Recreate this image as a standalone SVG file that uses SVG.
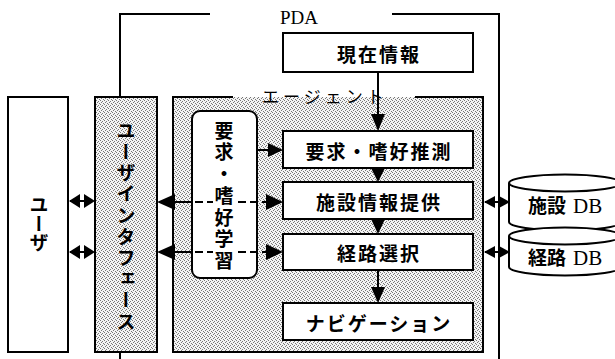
<svg xmlns="http://www.w3.org/2000/svg" width="615" height="359" viewBox="0 0 615 359">
  <style>
    .box { fill: #fff; stroke: #000; stroke-width: 2; }
    .shade { fill: url(#stipple); }
    .frame { fill: none; stroke: #000; stroke-width: 2; }
    .lbl { font-family: "Noto Sans CJK JP", "Noto Sans", sans-serif; font-weight: 700; font-size: 19px; fill: #000; }
    .vert { writing-mode: vertical-rl; }
    .latin { font-family: "Liberation Serif", "Noto Sans CJK JP", serif; font-size: 21px; }
    .line { stroke: #000; stroke-width: 2; fill: none; }
    .dash { stroke: #000; stroke-width: 2; fill: none; stroke-dasharray: 8 4; }
    .head { fill: #000; stroke: none; }
  </style>
  <defs>
    <pattern id="stipple" width="4" height="4" patternUnits="userSpaceOnUse">
      <rect width="4" height="4" fill="#f4f4f4"/>
      <rect x="0" y="0" width="1" height="1" fill="#777"/>
      <rect x="2" y="1" width="1" height="1" fill="#777"/>
      <rect x="1" y="2" width="1" height="1" fill="#777"/>
      <rect x="3" y="3" width="1" height="1" fill="#777"/>
    </pattern>
  </defs>

  <!-- PDA enclosure -->
  <g id="pda">
    <path class="frame" d="M120,359 V14 H210"/>
    <path class="frame" d="M392,14 H499 V359"/>
    <text x="280" y="24" font-family="Liberation Serif, serif" font-size="19">PDA</text>
  </g>

  <!-- user -->
  <g id="user">
    <rect class="box" x="8" y="97" width="60" height="255"/>
    <text class="lbl vert" x="39" y="224" text-anchor="middle" font-size="20">ユーザ</text>
  </g>

  <!-- user interface -->
  <g id="ui">
    <rect class="shade" x="95" y="97" width="62" height="255"/>
    <rect x="95" y="97" width="62" height="255" fill="none" stroke="#000" stroke-width="2"/>
    <text class="lbl vert" x="126" y="227" text-anchor="middle" letter-spacing="2.2">ユーザインタフェース</text>
  </g>

  <!-- agent -->
  <g id="agent">
    <rect class="shade" x="173" y="97" width="310" height="255"/>
    <path class="frame" d="M233,97 H173 V352 H483 V97 H415"/>
    <text x="262" y="103" font-family="Noto Sans CJK JP, sans-serif" font-weight="400" font-size="17" letter-spacing="4">エージェント</text>
  </g>

  <!-- current information -->
  <g id="current">
    <rect class="box" x="283" y="33" width="190" height="39"/>
    <text class="lbl" x="379" y="53" text-anchor="middle" dominant-baseline="central" letter-spacing="2">現在情報</text>
  </g>

  <!-- learning -->
  <g id="learning">
    <rect class="box" x="192" y="111" width="65" height="167" rx="8"/>
    <text class="lbl vert" x="224" y="197" text-anchor="middle" letter-spacing="2.7">要求・嗜好学習</text>
  </g>

  <g id="estimate">
    <rect class="box" x="283" y="131" width="190" height="37"/>
    <text class="lbl" x="379" y="150" text-anchor="middle" dominant-baseline="central" letter-spacing="2">要求・嗜好推測</text>
  </g>

  <g id="facility">
    <rect class="box" x="283" y="182" width="190" height="37"/>
    <text class="lbl" x="379" y="201" text-anchor="middle" dominant-baseline="central" letter-spacing="2">施設情報提供</text>
  </g>

  <g id="route">
    <rect class="box" x="283" y="234" width="190" height="36"/>
    <text class="lbl" x="379" y="252" text-anchor="middle" dominant-baseline="central" letter-spacing="2">経路選択</text>
  </g>

  <g id="navigation">
    <rect class="box" x="283" y="303" width="190" height="37"/>
    <text class="lbl" x="379" y="322" text-anchor="middle" dominant-baseline="central" letter-spacing="2">ナビゲーション</text>
  </g>

  <!-- databases -->
  <g id="facility-db">
    <path class="box" d="M509,183 V222 A56,8.5 0 0 0 621,222 V183 A56,8.5 0 0 0 509,183 Z"/>
    <path class="line" d="M509,183 A56,8.5 0 0 0 621,183"/>
    <text x="528" y="213"><tspan class="lbl" font-size="20">施設</tspan><tspan class="latin" dx="7">DB</tspan></text>
  </g>
  <g id="route-db">
    <path class="box" d="M509,236 V267 A56,8.5 0 0 0 621,267 V236 A56,8.5 0 0 0 509,236 Z"/>
    <path class="line" d="M509,236 A56,8.5 0 0 0 621,236"/>
    <text x="528" y="265"><tspan class="lbl" font-size="20">経路</tspan><tspan class="latin" dx="7">DB</tspan></text>
  </g>

  <!-- connectors -->
  <g id="connectors">
    <!-- current info down to estimation -->
    <line class="line" x1="378" y1="72" x2="378" y2="116"/>
    <polygon class="head" points="371,114 385,114 378,131"/>
    <!-- estimation -> facility -> route -> navigation -->
    <polygon class="head" points="371,168 385,168 378,182"/>
    <polygon class="head" points="371,219 385,219 378,234"/>
    <line class="line" x1="378" y1="270" x2="378" y2="289"/>
    <polygon class="head" points="371,287 385,287 378,303"/>

    <!-- learning -> estimation -->
    <line class="line" x1="257" y1="150" x2="270" y2="150"/>
    <polygon class="head" points="268,143 268,157 283,150"/>

    <!-- user <-> interface -->
    <line class="line" x1="70" y1="201" x2="93" y2="201"/>
    <polygon class="head" points="69,201 80,194 80,208"/>
    <polygon class="head" points="95,201 84,194 84,208"/>
    <line class="line" x1="70" y1="252" x2="93" y2="252"/>
    <polygon class="head" points="69,252 80,245 80,259"/>
    <polygon class="head" points="95,252 84,245 84,259"/>

    <!-- interface <-> facility info -->
    <polygon class="head" points="157,202 175,194 175,210"/>
    <line class="line" x1="172" y1="202" x2="193" y2="202"/>
    <line class="dash" x1="195" y1="202" x2="213" y2="202"/>
    <line class="dash" x1="238" y1="202" x2="268" y2="202"/>
    <polygon class="head" points="266,194 266,210 283,202"/>

    <!-- interface <-> route selection -->
    <polygon class="head" points="157,252 175,244 175,260"/>
    <line class="line" x1="172" y1="252" x2="193" y2="252"/>
    <line class="dash" x1="195" y1="252" x2="213" y2="252"/>
    <line class="dash" x1="238" y1="252" x2="268" y2="252"/>
    <polygon class="head" points="266,244 266,260 283,252"/>

    <!-- agent <-> databases -->
    <line class="line" x1="485" y1="202" x2="508" y2="202"/>
    <polygon class="head" points="484,202 495,196 495,208"/>
    <polygon class="head" points="510,202 499,196 499,208"/>
    <line class="line" x1="485" y1="252" x2="508" y2="252"/>
    <polygon class="head" points="484,252 495,246 495,258"/>
    <polygon class="head" points="510,252 499,246 499,258"/>
  </g>
</svg>
